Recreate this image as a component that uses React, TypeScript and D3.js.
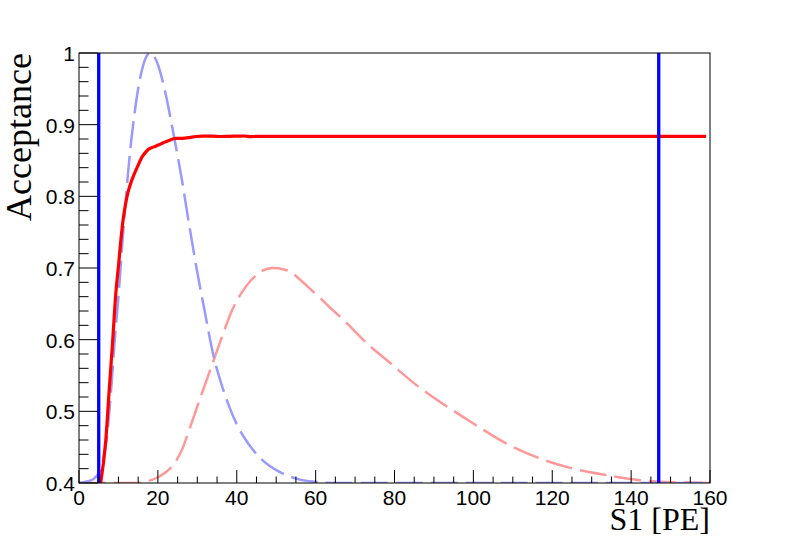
import React from "react";
import * as d3 from "d3";

const W = 789;
const H = 537;

// Axis ranges and tick labels
const xDomain = [0, 160];
const yDomain = [0.4, 1.0];
const xTickLabels = [0, 20, 40, 60, 80, 100, 120, 140, 160];
const yTickLabels = [0.4, 0.5, 0.6, 0.7, 0.8, 0.9, 1];

// Acceptance curve (red, solid)
const accX = [5.5, 6.8, 7.6, 8.5, 9.3, 10.1, 10.6, 11.2, 11.8, 12.4, 13.1, 14.0, 14.8, 16.0, 16.8, 17.7, 19.0, 20.3, 21.5, 22.8, 24.5, 26.2, 28.0, 29.6, 31.5, 33.8, 36.0, 38.0, 40.0, 42.0, 43.5, 45.0, 48.0, 60.0, 80.0, 100.0, 120.0, 140.0, 159.0];
const accY = [0.4, 0.46, 0.525, 0.595, 0.662, 0.708, 0.738, 0.768, 0.789, 0.805, 0.818, 0.831, 0.841, 0.855, 0.861, 0.866, 0.869, 0.872, 0.875, 0.878, 0.881, 0.881, 0.882, 0.8835, 0.884, 0.884, 0.8835, 0.8838, 0.884, 0.8842, 0.8832, 0.8837, 0.8837, 0.8837, 0.8837, 0.8837, 0.8837, 0.8837, 0.8837];

// Low-energy spectrum (blue, dashed, scaled)
const blueX = [0, 2, 3.5, 5, 6, 7, 8, 9, 10, 11, 12, 13, 14, 15, 16, 17, 18, 19, 20, 22, 24, 26, 28, 30, 32, 34, 36, 38, 40, 42.3, 44, 46.5, 50.7, 55.8, 61, 65, 80, 100, 120, 140, 160];
const blueY = [0.4, 0.402, 0.405, 0.414, 0.43, 0.46, 0.52, 0.595, 0.66, 0.735, 0.805, 0.865, 0.912, 0.95, 0.977, 0.994, 1.0, 0.996, 0.984, 0.942, 0.886, 0.826, 0.758, 0.694, 0.636, 0.58, 0.54, 0.508, 0.482, 0.46, 0.447, 0.432, 0.416, 0.405, 0.401, 0.4, 0.4, 0.4, 0.4, 0.4, 0.4];

// Higher-energy spectrum (pink, dashed, scaled)
const pinkX = [0, 10, 15, 17, 20, 22, 24, 26, 28, 30, 32, 34, 36, 38.9, 42.3, 45.6, 49, 52, 54, 56, 59, 61, 64, 67, 73, 79, 85, 91, 96.6, 100, 108.4, 117, 125.3, 133.8, 142.2, 150.7, 160];
const pinkY = [0.4, 0.4, 0.4, 0.402, 0.408, 0.415, 0.426, 0.445, 0.475, 0.507, 0.538, 0.569, 0.6, 0.642, 0.674, 0.693, 0.7, 0.698, 0.693, 0.684, 0.669, 0.659, 0.643, 0.628, 0.595, 0.567, 0.539, 0.515, 0.495, 0.483, 0.455, 0.434, 0.42, 0.411, 0.404, 0.401, 0.4];

// S1 window cuts
const cuts = [5, 147];

const frame = { left: 79, right: 710, top: 53, bottom: 483 };

export default function App() {
  const x = d3.scaleLinear().domain(xDomain).range([frame.left, frame.right]);
  const y = d3.scaleLinear().domain(yDomain).range([frame.bottom, frame.top]);

  const lineFor = (xs: number[], ys: number[]) =>
    d3
      .line<number>()
      .x((_, i) => x(xs[i]))
      .y((_, i) => y(ys[i]))
      .curve(d3.curveMonotoneX)(xs);

  const xMinor = d3.range(0, 160.001, 5);
  const yMinor = d3.range(0, 31).map((i) => 0.4 + i * 0.02);

  const sans = "'Liberation Sans', Arial, Helvetica, sans-serif";
  const serif = "'Liberation Serif', 'Times New Roman', serif";

  return (
    <svg
      width={W}
      height={H}
      style={{ position: "absolute", left: 0, top: 0, display: "block", background: "#fff" }}
    >
      <defs>
        <clipPath id="frameClip">
          <rect x={frame.left} y={frame.top} width={frame.right - frame.left} height={frame.bottom - frame.top} />
        </clipPath>
      </defs>
      <rect x={0} y={0} width={W} height={H} fill="#fff" />

      <g clipPath="url(#frameClip)">
        <path d={lineFor(pinkX, pinkY) || ""} fill="none" stroke="#ff9999" strokeWidth={2.5} strokeDasharray="27 8" />
        <path d={lineFor(blueX, blueY) || ""} fill="none" stroke="#9999ff" strokeWidth={2.5} strokeDasharray="27 8" />
        <path d={lineFor(accX, accY) || ""} fill="none" stroke="#ff0000" strokeWidth={3.2} strokeLinejoin="round" />
        {cuts.map((c) => (
          <line key={c} x1={x(c)} x2={x(c)} y1={y(yDomain[0])} y2={y(yDomain[1])} stroke="#0000ff" strokeWidth={3.3} />
        ))}
      </g>

      {/* ticks */}
      {xMinor.map((v) => {
        const major = Math.abs(v % 20) < 1e-6;
        return (
          <line key={"xt" + v} x1={x(v)} x2={x(v)} y1={frame.bottom} y2={frame.bottom - (major ? 12.9 : 6.5)} stroke="#000" strokeWidth={1} />
        );
      })}
      {yMinor.map((v, i) => {
        const major = i % 5 === 0;
        return (
          <line key={"yt" + i} x1={frame.left} x2={frame.left + (major ? 19 : 9.5)} y1={y(v)} y2={y(v)} stroke="#000" strokeWidth={1} />
        );
      })}

      {/* frame */}
      <rect x={frame.left} y={frame.top} width={frame.right - frame.left} height={frame.bottom - frame.top} fill="none" stroke="#000" strokeWidth={1} />

      {/* tick labels */}
      {xTickLabels.map((v) => (
        <text key={"xl" + v} x={x(v)} y={505} textAnchor="middle" fontFamily={sans} fontSize={21} fill="#000">
          {v}
        </text>
      ))}
      {yTickLabels.map((v) => (
        <text key={"yl" + v} x={75} y={y(v) + 8} textAnchor="end" fontFamily={sans} fontSize={21} fill="#000">
          {String(v)}
        </text>
      ))}

      {/* axis titles */}
      <text x={frame.right} y={530} textAnchor="end" fontFamily={serif} fontSize={32} fill="#000">
        S1 [PE]
      </text>
      <text
        transform={`translate(31, ${frame.top}) rotate(-90)`}
        textAnchor="end"
        fontFamily={serif}
        fontSize={36}
        fill="#000"
      >
        Acceptance
      </text>
    </svg>
  );
}
